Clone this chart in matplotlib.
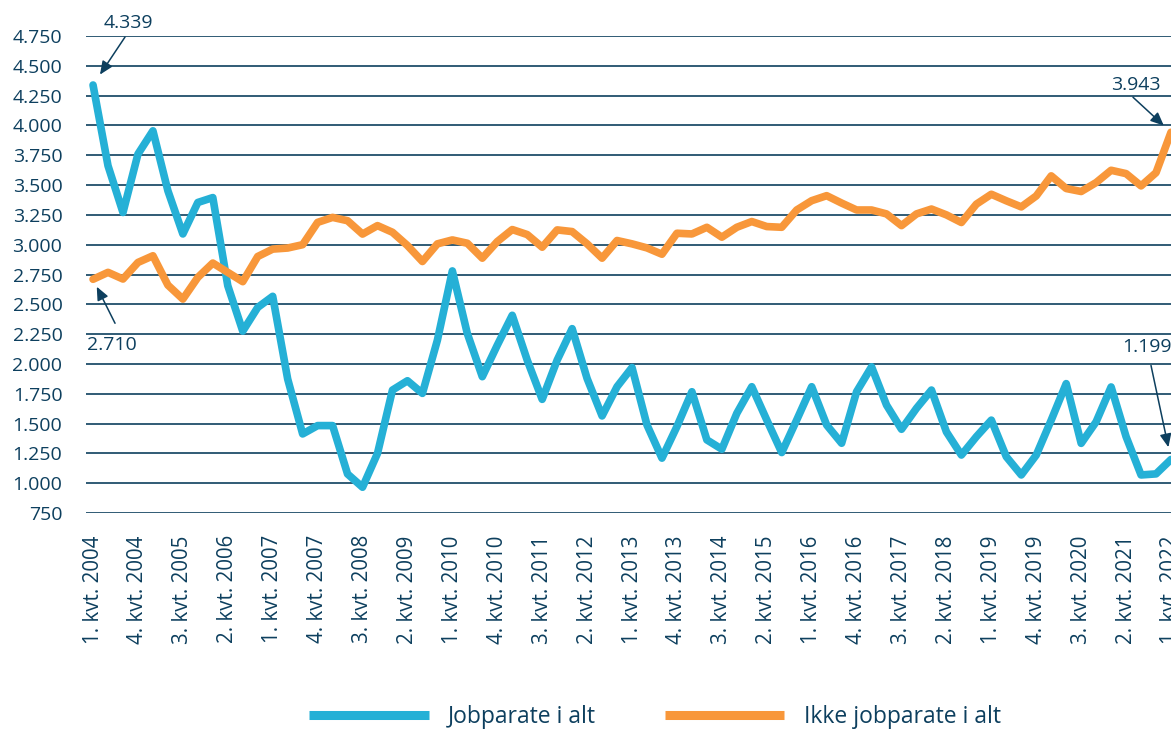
import matplotlib.pyplot as plt
from matplotlib.lines import Line2D
from matplotlib.ticker import FuncFormatter

plt.rcParams['font.family'] = ['Open Sans', 'DejaVu Sans']

navy = '#0d3f5e'
blue_c = '#25b0d6'
orange_c = '#f8973a'

years = list(range(2004, 2023))
quarters = [(q, y) for y in years for q in range(1, 5)][:73]   # 1. kvt. 2004 - 1. kvt. 2022
labels = [f'{q}. kvt. {y}' for q, y in quarters]

jobparate = [4339, 3662, 3270, 3760, 3955, 3452, 3090, 3354, 3395, 2656,
             2275, 2474, 2567, 1874, 1413, 1483, 1483, 1077, 966, 1250,
             1781, 1859, 1753, 2199, 2780, 2255, 1893, 2157, 2408, 2032,
             1703, 2032, 2296, 1878, 1564, 1809, 1970, 1488, 1210, 1475,
             1767, 1363, 1285, 1586, 1809, 1530, 1257, 1530, 1809, 1488,
             1335, 1767, 1976, 1655, 1452, 1628, 1781, 1430, 1236, 1390,
             1529, 1222, 1069, 1236, 1529, 1835, 1334, 1515, 1807, 1390,
             1069, 1078, 1199]

ikke_jobparate = [2710, 2768, 2712, 2851, 2907, 2661, 2544, 2726, 2846, 2768,
                  2690, 2901, 2963, 2972, 3000, 3187, 3229, 3201, 3089, 3160,
                  3104, 2993, 2859, 3007, 3040, 3012, 2887, 3026, 3127, 3085,
                  2979, 3124, 3110, 3007, 2887, 3035, 3007, 2973, 2920, 3096,
                  3090, 3146, 3063, 3146, 3194, 3152, 3146, 3291, 3369, 3411,
                  3349, 3291, 3291, 3258, 3160, 3258, 3299, 3250, 3186, 3340,
                  3423, 3368, 3317, 3409, 3577, 3471, 3446, 3521, 3624, 3596,
                  3493, 3604, 3943]

x = list(range(len(labels)))

fig = plt.figure(figsize=(11.71, 7.31), dpi=100)
ax = fig.add_axes([86 / 1171, 1 - 513 / 731, 1 - 86 / 1171, (513 - 36) / 731])

ax.plot(x, jobparate, color=blue_c, lw=5.5, solid_joinstyle='round',
        solid_capstyle='round', zorder=3)
ax.plot(x, ikke_jobparate, color=orange_c, lw=5.5, solid_joinstyle='round',
        solid_capstyle='round', zorder=3)

ax.set_ylim(750, 4750)
ax.set_xlim(-0.47, 72.0)
ax.set_yticks(range(750, 4751, 250))
ax.yaxis.set_major_formatter(FuncFormatter(lambda v, p: f'{v:,.0f}'.replace(',', '.')))
ax.set_xticks(x[::3])
ax.set_xticklabels(labels[::3], rotation=90, va='top', ha='center')

ax.grid(axis='y', color=navy, lw=1.2)
ax.set_axisbelow(True)
for s in ax.spines.values():
    s.set_visible(False)
ax.tick_params(axis='y', length=0, pad=17, labelsize=14, labelcolor=navy)
ax.tick_params(axis='x', length=0, pad=16, labelsize=14.8, labelcolor=navy)

# annotations: (index, value, text offset, arrow tail offset, shrink)
notes = [
    (0, jobparate[0], (35, 62), (32, 48), 9),
    (0, ikke_jobparate[0], (19, -66), (22, -44), 6),
    (72, ikke_jobparate[72], (-35, 47), (-38, 35), 7),
    (72, jobparate[72], (-24, 112), (-20, 94), 9),
]
for i, v, toff, aoff, shr in notes:
    txt = f'{v:,.0f}'.replace(',', '.')
    ax.annotate(txt, xy=(i, v), xytext=toff, textcoords='offset pixels',
                ha='center', va='center', fontsize=14, color=navy,
                annotation_clip=False)
    ax.annotate('', xy=(i, v), xytext=aoff, textcoords='offset pixels',
                annotation_clip=False,
                arrowprops=dict(arrowstyle='-|>,head_length=0.8,head_width=0.35',
                                color=navy, lw=1.1, shrinkA=0, shrinkB=shr))

handles = [Line2D([], [], color=blue_c, lw=6.5, solid_capstyle='butt'),
           Line2D([], [], color=orange_c, lw=6.5, solid_capstyle='butt')]
fig.legend(handles, ['Jobparate i alt', 'Ikke jobparate i alt'],
           loc='center', bbox_to_anchor=(655 / 1171, 14 / 731), ncol=2,
           frameon=False, fontsize=16.5, labelcolor=navy, handlelength=5.2,
           handletextpad=0.85, columnspacing=3.0)

fig.savefig('out.png', dpi=100)
